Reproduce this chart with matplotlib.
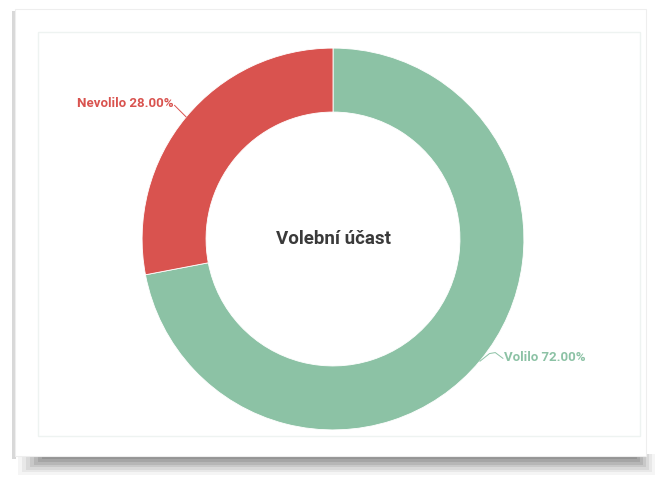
import matplotlib.pyplot as plt
from matplotlib.patches import Rectangle

labels = ["Volilo", "Nevolilo"]
shares = [72.0, 28.0]
colors = ["#8cc2a5", "#d9534f"]
title = "Volební účast"

W, H = 659, 481
fig = plt.figure(figsize=(W / 100, H / 100), dpi=100)
fig.patch.set_facecolor("white")


def px_rect(x0, y0, x1, y1, **kw):
    # rectangle given in pixels from the top-left corner
    return Rectangle((x0 / W, 1 - y1 / H), (x1 - x0) / W, (y1 - y0) / H,
                     transform=fig.transFigure, zorder=-5, **kw)


# card shadow (rough gradient under the card)
for i, a in enumerate([0.05, 0.07, 0.09, 0.11, 0.13, 0.15, 0.17]):
    fig.patches.append(px_rect(18 + i * 4, 455, 655 - i * 3, 476 - i * 2.6,
                               facecolor="#444444", edgecolor="none", alpha=a))
fig.patches.append(px_rect(12, 12, 16, 460, facecolor="#c8c8c8",
                           edgecolor="none", alpha=0.7))
fig.patches.append(px_rect(15, 10, 646, 457, facecolor="white",
                           edgecolor="#eeeeee", linewidth=0.8))
fig.patches.append(px_rect(38, 33, 640, 437, facecolor="white",
                           edgecolor="#eef3f1", linewidth=1.0))

cx, cy = 333, 240
ax = fig.add_axes([(cx - 210) / W, (H - cy - 210) / H, 420 / W, 420 / H])
ax.set_zorder(5)
ax.patch.set_visible(False)

ax.pie(shares, colors=colors, startangle=90, counterclock=False, radius=1.0,
       wedgeprops=dict(width=0.335, edgecolor="white", linewidth=0.6))
ax.set_xlim(-1.1, 1.1)
ax.set_ylim(-1.1, 1.1)
ax.set_aspect("equal")
ax.axis("off")

ax.text(0, 0.005, title, ha="center", va="center", fontsize=13.5,
        fontfamily="Roboto", fontweight="bold", color="#3a3a3a")

# Nevolilo label
ax.plot([-0.77, -0.83], [0.64, 0.70], color=colors[1], lw=0.7)
ax.text(-0.835, 0.715, f"{labels[1]} {shares[1]:.2f}%", ha="right", va="center",
        fontsize=9.5, fontfamily="Roboto", fontweight="bold", color=colors[1])

# Volilo label
ax.plot([0.77, 0.82, 0.85, 0.89], [-0.64, -0.60, -0.595, -0.625],
        color=colors[0], lw=0.7)
ax.text(0.895, -0.615, f"{labels[0]} {shares[0]:.2f}%", ha="left", va="center",
        fontsize=9.5, fontfamily="Roboto", fontweight="bold", color=colors[0])

fig.savefig("out.png", dpi=100)
